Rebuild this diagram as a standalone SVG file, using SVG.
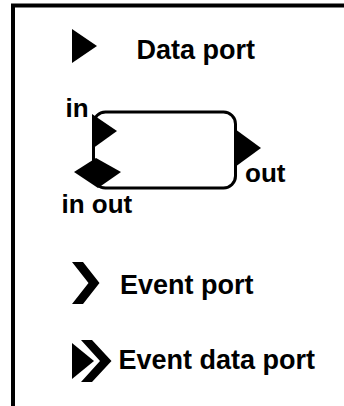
<svg xmlns="http://www.w3.org/2000/svg" width="344" height="406" viewBox="0 0 344 406">
<style>
.lbl{font-family:"Liberation Sans",Arial,sans-serif;font-weight:bold;font-size:26px;fill:#000}
.big{font-size:27px}
.blk{fill:#000;stroke:none}
</style>
<rect x="0" y="0" width="344" height="406" fill="#fff"/>
<g id="frame"><rect x="13" y="5.5" width="400" height="500" fill="none" stroke="#000" stroke-width="4"/></g>
<g id="data-port-legend">
<polygon class="blk" points="72,29 97,46 72,63"/>
<text class="lbl big" x="136.5" y="59">Data port</text>
</g>
<g id="component">
<rect x="93.5" y="112" width="142" height="76" rx="12" ry="12" fill="none" stroke="#000" stroke-width="3"/>
</g>
<g id="port-in">
<polygon class="blk" points="92,114 117,131 92,149"/>
<text class="lbl" x="65.5" y="117">in</text>
</g>
<g id="port-inout">
<polygon class="blk" points="74,172 96,158 121,172 98,188"/>
<text class="lbl" x="61.5" y="212.5">in out</text>
</g>
<g id="port-out">
<polygon class="blk" points="235,129 261,148 235,167"/>
<text class="lbl" x="245" y="182">out</text>
</g>
<g id="event-port-legend">
<polygon class="blk" points="72,262 83,262 99.5,283 83,304 72,304 88.5,283"/>
<text class="lbl big" x="120" y="293.5">Event port</text>
</g>
<g id="event-data-port-legend">
<polygon class="blk" points="72,343 94,361 72,379"/>
<polygon class="blk" points="81,340 92,340 111.5,361 92,382 81,382 100,361"/>
<text class="lbl big" x="118.5" y="368.5">Event data port</text>
</g>
<g id="connectors"></g>
</svg>
